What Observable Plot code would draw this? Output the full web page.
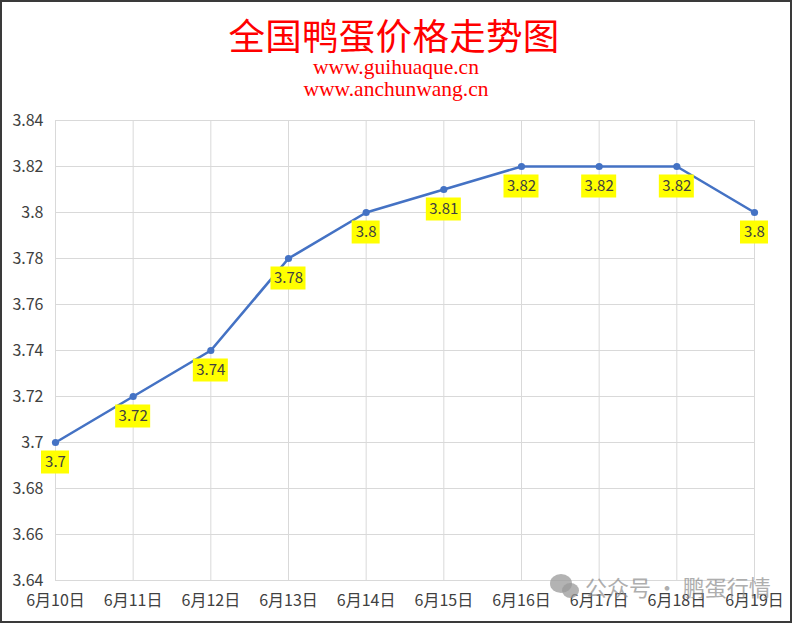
<!DOCTYPE html>
<html>
<head>
<meta charset="utf-8">
<script src="https://cdn.jsdelivr.net/npm/d3@7"></script>
<script src="https://cdn.jsdelivr.net/npm/@observablehq/plot@0.6"></script>
<style>
  html, body { margin: 0; padding: 0; background: #fff; }
  #wrap { position: relative; width: 792px; height: 623px; overflow: hidden; background: #fff; }
  #chart { position: absolute; left: 0; top: 0; }
  .t { position: absolute; left: 0; width: 792px; text-align: center; color: #ff0000; white-space: nowrap; }
  #title { top: 12px; left: -2px; font-family: "Noto Sans CJK SC", sans-serif; font-size: 36.5px; line-height: 46px; letter-spacing: 0.3px; }
  #sub1 { top: 55px; font-family: "Liberation Serif", "DejaVu Serif", serif; font-size: 21.5px; line-height: 24px; left: 0px; }
  #sub2 { top: 77px; font-family: "Liberation Serif", "DejaVu Serif", serif; font-size: 21.5px; line-height: 24px; left: 0px; }
  #wm { position: absolute; left: 585px; top: 572px; font-family: "Noto Sans CJK SC", sans-serif; font-size: 22px; line-height: 28px; color: #8c8c8c; opacity: 0.7; white-space: nowrap; }
  .bub { position: absolute; border-radius: 50%; background: #9a9a9a; opacity: 0.75; }
  #frame { position: absolute; left: 0; top: 0; width: 792px; height: 623px; box-sizing: border-box; border: 2px solid #3a3a3a; pointer-events: none; }
</style>
</head>
<body>
<div id="wrap">
  <div id="chart"></div>
  <div class="t" id="title">全国鸭蛋价格走势图</div>
  <div class="t" id="sub1">www.guihuaque.cn</div>
  <div class="t" id="sub2">www.anchunwang.cn</div>
  <div class="bub" style="left:550px;top:574px;width:22px;height:19px;"></div>
  <div class="bub" style="left:562px;top:583px;width:17px;height:15px;"></div>
  <div id="wm">公众号 · 鹏蛋行情</div>
  <div id="frame"></div>
</div>
<script>
const days = ["6月10日","6月11日","6月12日","6月13日","6月14日","6月15日","6月16日","6月17日","6月18日","6月19日"];
const prices = [3.70, 3.72, 3.74, 3.78, 3.80, 3.81, 3.82, 3.82, 3.82, 3.80];
const yTicks = [3.64, 3.66, 3.68, 3.70, 3.72, 3.74, 3.76, 3.78, 3.80, 3.82, 3.84];

const fmt = v => String(+v.toFixed(2));
const data = days.map((d, i) => ({i, day: d, price: prices[i], label: fmt(prices[i])}));
const idx = d3.range(days.length);

const short = data.filter(d => d.label.length <= 3);
const long = data.filter(d => d.label.length > 3);

const chart = Plot.plot({
  width: 792,
  height: 623,
  marginTop: 120,
  marginBottom: 43,
  marginLeft: 55,
  marginRight: 38,
  style: {fontFamily: "'Noto Sans CJK SC', sans-serif", fontSize: "16px", color: "#404040", background: "transparent"},
  x: {domain: [0, days.length - 1], axis: null},
  y: {domain: [3.64, 3.84], axis: null},
  marks: [
    Plot.ruleY(yTicks, {stroke: "#d9d9d9", strokeWidth: 1}),
    Plot.ruleX(idx, {stroke: "#d9d9d9", strokeWidth: 1}),
    Plot.axisY(yTicks, {tickSize: 0, tickPadding: 12, tickFormat: fmt, fontSize: 16, fill: "#404040", label: null}),
    Plot.axisX(idx, {tickSize: 0, tickPadding: 14, tickFormat: i => days[i], fontSize: 16, fill: "#404040", label: null}),
    Plot.line(data, {x: "i", y: "price", stroke: "#4472C4", strokeWidth: 2.6}),
    Plot.dot(data, {x: "i", y: "price", r: 3.6, fill: "#4472C4"}),
    Plot.rect(short, {x1: "i", x2: "i", y1: "price", y2: "price", dy: 20, insetLeft: -14, insetRight: -14, insetTop: -11.5, insetBottom: -11.5, fill: "#ffff00"}),
    Plot.rect(long, {x1: "i", x2: "i", y1: "price", y2: "price", dy: 20, insetLeft: -17.5, insetRight: -17.5, insetTop: -11.5, insetBottom: -11.5, fill: "#ffff00"}),
    Plot.text(data, {x: "i", y: "price", text: "label", dy: 20, fontSize: 15, fill: "#404040"})
  ]
});
document.getElementById("chart").appendChild(chart);
</script>
</body>
</html>
